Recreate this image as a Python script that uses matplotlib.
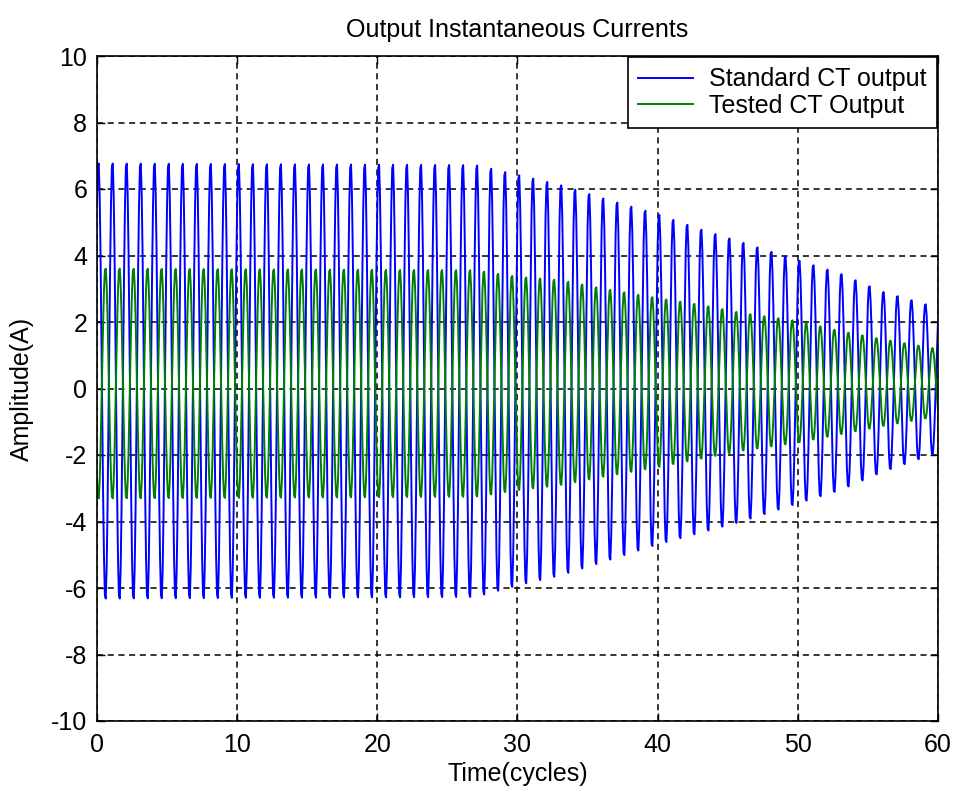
import numpy as np
import matplotlib
matplotlib.use("Agg")
import matplotlib.pyplot as plt

plt.rcParams['font.family'] = ['Liberation Sans', 'DejaVu Sans']
plt.rcParams['axes.unicode_minus'] = False

# envelope of the two CT secondary currents, read per cycle (A)
env_cycles = [0, 27, 30, 33, 36, 40, 43, 46, 50, 53, 56, 60]
std_peak = [6.85, 6.8, 6.5, 6.2, 5.8, 5.3, 4.85, 4.45, 3.9, 3.5, 2.95, 2.45]
std_trough = [-6.4, -6.35, -6.0, -5.7, -5.3, -4.75, -4.4, -4.05, -3.5, -3.1, -2.55, -1.95]
tst_peak = [3.65, 3.6, 3.4, 3.3, 3.05, 2.75, 2.55, 2.3, 2.05, 1.75, 1.5, 1.2]
tst_trough = [-3.35, -3.3, -3.1, -2.95, -2.7, -2.4, -2.15, -1.9, -1.65, -1.4, -1.15, -0.85]

# phase of the positive peak inside each cycle
std_phase = 0.10
tst_phase = 0.60

n_cycles = 60
samples_per_cycle = 16

x_ticks = [0, 10, 20, 30, 40, 50, 60]
y_ticks = [-10, -8, -6, -4, -2, 0, 2, 4, 6, 8, 10]


def wave(t, peak, trough, phase):
    hi = np.interp(t, env_cycles, peak)
    lo = np.interp(t, env_cycles, trough)
    mid = (hi + lo) / 2
    amp = (hi - lo) / 2
    return mid + amp * np.cos(2 * np.pi * (t - phase))


t = np.linspace(0, n_cycles, n_cycles * samples_per_cycle + 1)
i_std = wave(t, std_peak, std_trough, std_phase)
i_tst = wave(t, tst_peak, tst_trough, tst_phase)

fig = plt.figure(figsize=(9.54, 7.92), dpi=100)
ax = fig.add_axes([97 / 954, 1 - 721 / 792, 841 / 954, 665 / 792])

ax.plot(t, i_std, color="#0000ff", lw=1.4, label="Standard CT output")
ax.plot(t, i_tst, color="#008000", lw=1.4, label="Tested CT Output")

ax.set_xlim(0, 60)
ax.set_ylim(-10, 10)
ax.set_xticks(x_ticks)
ax.set_yticks(y_ticks)
ax.tick_params(direction="in", top=True, right=True, length=6, width=1,
               labelsize=18)
ax.tick_params(axis="x", pad=9)
ax.tick_params(axis="y", pad=7)
ax.grid(True, color="black", linestyle=(0, (4, 3)), linewidth=1.1)
for s in ax.spines.values():
    s.set_linewidth(1.2)

ax.set_title("Output Instantaneous Currents", fontsize=18, pad=14)
ax.set_xlabel("Time(cycles)", fontsize=18, labelpad=3)
ax.set_ylabel("Amplitude(A)", fontsize=18, labelpad=12)

leg = ax.legend(loc="upper right", fontsize=18, fancybox=False, framealpha=1,
                edgecolor="black", borderaxespad=0.05, handlelength=2.2,
                handletextpad=0.65, borderpad=0.4, labelspacing=0.1)
leg.get_frame().set_linewidth(1.2)

fig.savefig("out.png", dpi=100)
